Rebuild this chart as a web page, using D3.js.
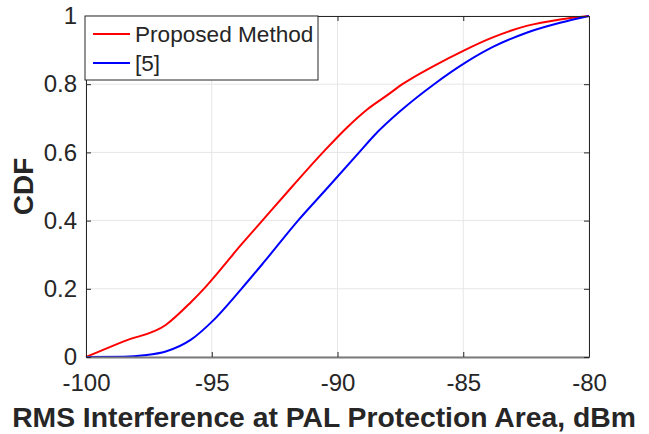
<!DOCTYPE html>
<html>
<head>
<meta charset="utf-8">
<script src="https://cdn.jsdelivr.net/npm/d3@7"></script>
<style>
  body { margin: 0; background: #fff; }
  svg text { font-family: "Liberation Sans", Arial, Helvetica, sans-serif; fill: #262626; }
</style>
</head>
<body>
<div class="chart"></div>
<script>
// CDF of RMS interference
var proposedX = [-100, -98.5, -96.83, -95.84, -95.25, -93.82, -92.99, -91.8, -90.58, -89.61, -88.82, -88.02, -87.42, -86.16, -85.0, -83.8, -82.48, -81.15, -80];
var proposedY = [0, 0.046, 0.094, 0.16, 0.205, 0.33, 0.4, 0.5, 0.6, 0.674, 0.726, 0.768, 0.8, 0.854, 0.898, 0.938, 0.971, 0.99, 1];

var refX = [-100, -98.5, -97.69, -96.83, -95.84, -95.0, -93.82, -92.96, -91.57, -90.35, -89.14, -88.55, -87.49, -86.16, -84.9, -83.8, -82.48, -81.15, -80];
var refY = [0, 0.001, 0.005, 0.016, 0.05, 0.103, 0.2, 0.275, 0.4, 0.5, 0.6, 0.649, 0.722, 0.8, 0.864, 0.91, 0.951, 0.98, 1];

var xTicks = [-100, -95, -90, -85, -80];
var yTicks = [0, 0.2, 0.4, 0.6, 0.8, 1];
var seriesNames = ["Proposed Method", "[5]"];
var seriesColors = ["#ff0000", "#0000ff"];

var svgWidth = 649;
var svgHeight = 434;
var margin = { top: 16, right: 60, bottom: 77, left: 86 };
var width = svgWidth - margin.left - margin.right;
var height = svgHeight - margin.top - margin.bottom;

var svg = d3.select(".chart")
  .append("svg")
  .attr("width", svgWidth)
  .attr("height", svgHeight);

var chartGroup = svg.append("g")
  .attr("transform", `translate(${margin.left}, ${margin.top})`);

var xScale = d3.scaleLinear().domain([-100, -80]).range([0, width]);
var yScale = d3.scaleLinear().domain([0, 1]).range([height, 0]);

// grid
chartGroup.append("g")
  .selectAll("line")
  .data(xTicks)
  .enter()
  .append("line")
  .attr("x1", d => xScale(d)).attr("x2", d => xScale(d))
  .attr("y1", 0).attr("y2", height)
  .attr("stroke", "#e6e6e6").attr("stroke-width", 1);

chartGroup.append("g")
  .selectAll("line")
  .data(yTicks)
  .enter()
  .append("line")
  .attr("y1", d => yScale(d)).attr("y2", d => yScale(d))
  .attr("x1", 0).attr("x2", width)
  .attr("stroke", "#e6e6e6").attr("stroke-width", 1);

// curves
var line = d3.line()
  .x(d => xScale(d[0]))
  .y(d => yScale(d[1]))
  .curve(d3.curveMonotoneX);

var seriesData = [
  d3.zip(proposedX, proposedY),
  d3.zip(refX, refY)
];

chartGroup.selectAll("path.curve")
  .data(seriesData)
  .enter()
  .append("path")
  .attr("class", "curve")
  .attr("d", line)
  .attr("fill", "none")
  .attr("stroke", (d, i) => seriesColors[i])
  .attr("stroke-width", 2);

// axes (matlab-like box, ticks inside)
var xAxis = d3.axisBottom(xScale).tickValues(xTicks).tickSizeInner(-5).tickSizeOuter(0).tickPadding(17)
  .tickFormat(d => String(d));
var yAxis = d3.axisLeft(yScale).tickValues(yTicks).tickSizeInner(-5).tickSizeOuter(0).tickPadding(14)
  .tickFormat(d => String(d));

var gx = chartGroup.append("g")
  .attr("transform", `translate(0, ${height})`)
  .call(xAxis);
gx.select(".domain").attr("stroke", "#7a7a7a").attr("stroke-width", 2);

var gy = chartGroup.append("g").call(yAxis);
gy.select(".domain").attr("stroke", "#262626");

chartGroup.append("g")
  .call(d3.axisTop(xScale).tickValues(xTicks).tickSizeInner(-5).tickSizeOuter(0).tickFormat(""))
  .select(".domain").attr("stroke", "#262626");
chartGroup.append("g")
  .attr("transform", `translate(${width}, 0)`)
  .call(d3.axisRight(yScale).tickValues(yTicks).tickSizeInner(-5).tickSizeOuter(0).tickFormat(""))
  .select(".domain").attr("stroke", "#262626");

chartGroup.selectAll(".tick line").attr("stroke", "#262626");
chartGroup.selectAll(".tick text")
  .style("font-size", "24px")
  .attr("fill", "#262626");
gx.selectAll(".tick text").attr("dy", "0.71em");
gy.selectAll(".tick text").attr("dx", "5");

// legend
var legend = chartGroup.append("g").attr("transform", "translate(-1, 0)");
legend.append("rect")
  .attr("x", 0).attr("y", 0)
  .attr("width", 233).attr("height", 64)
  .attr("fill", "#fff")
  .attr("stroke", "#262626").attr("stroke-width", 1);

var items = legend.selectAll("g.item")
  .data(seriesNames)
  .enter()
  .append("g")
  .attr("transform", (d, i) => `translate(0, ${18 + i * 29})`);
items.append("line")
  .attr("x1", 8).attr("x2", 45)
  .attr("y1", 0).attr("y2", 0)
  .attr("stroke", (d, i) => seriesColors[i])
  .attr("stroke-width", 2);
items.append("text")
  .attr("x", 50).attr("y", 0)
  .attr("dy", "0.35em")
  .style("font-size", "22.6px")
  .text(d => d);

// axis labels
svg.append("text")
  .attr("x", 324)
  .attr("y", 427)
  .attr("text-anchor", "middle")
  .style("font-size", "28.3px")
  .style("font-weight", "bold")
  .text("RMS Interference at PAL Protection Area, dBm");

svg.append("text")
  .attr("transform", `translate(33, ${margin.top + height / 2}) rotate(-90)`)
  .attr("text-anchor", "middle")
  .style("font-size", "28px")
  .style("font-weight", "bold")
  .text("CDF");
</script>
</body>
</html>
